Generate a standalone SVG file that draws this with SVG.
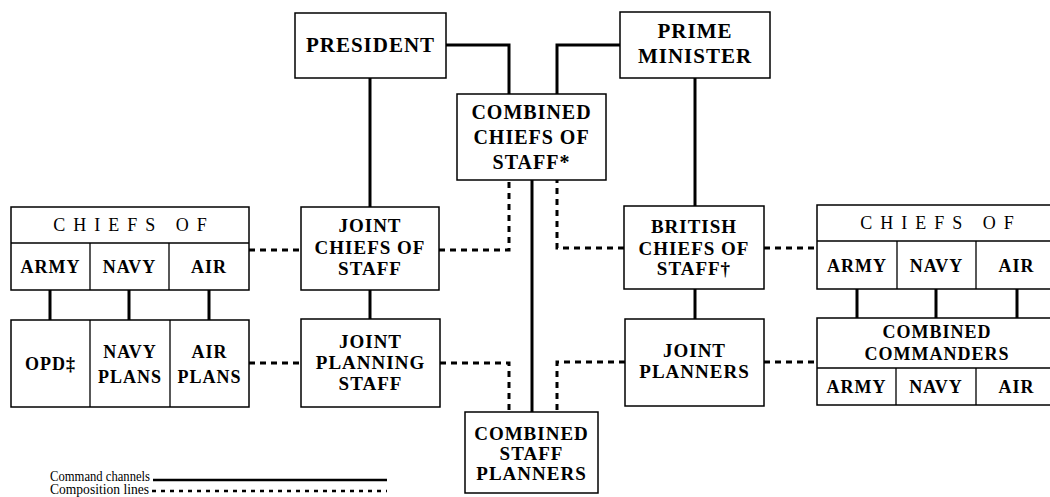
<svg xmlns="http://www.w3.org/2000/svg" width="1050" height="497" viewBox="0 0 1050 497">
<style>
.box{fill:#fff;stroke:#000;stroke-width:1.5}
.div{stroke:#000;stroke-width:1.3;fill:none}
.cmd{stroke:#000;stroke-width:3;fill:none}
.comp{stroke:#000;stroke-width:3;fill:none;stroke-dasharray:6 5}
text{font-family:"Liberation Serif","Times New Roman",serif;fill:#000;text-anchor:middle}
.t{font-size:19px;font-weight:bold;letter-spacing:1px}
.s{font-size:18px;font-weight:bold;letter-spacing:1px}
.h{font-size:18px;letter-spacing:8px}
.lg{font-size:14px;text-anchor:start}
</style>
<rect width="1050" height="497" fill="#fff"/>
<g id="connectors">
<path class="cmd" d="M446 45H509V94"/>
<path class="cmd" d="M620 45H557V94"/>
<path class="cmd" d="M370 78V207"/>
<path class="cmd" d="M370 290V319"/>
<path class="cmd" d="M695 78V206"/>
<path class="cmd" d="M695 289V319"/>
<path class="cmd" d="M532 180V412"/>
<path class="cmd" d="M50 290V320M129 290V320M209 290V320"/>
<path class="cmd" d="M857 289V318M936 289V318M1017 289V318"/>
<path class="comp" d="M249 250H301"/>
<path class="comp" d="M249 363H301"/>
<path class="comp" d="M439 250H509V180"/>
<path class="comp" d="M440 363H509V412"/>
<path class="comp" d="M624 248H557V180"/>
<path class="comp" d="M625 362H557V412"/>
<path class="comp" d="M764 248H817"/>
<path class="comp" d="M764 362H817"/>
</g>
<g id="president">
<rect class="box" x="295" y="13" width="151" height="65"/>
<text class="t" x="370.5" y="52" style="font-size:21px">PRESIDENT</text>
</g>
<g id="prime-minister">
<rect class="box" x="620" y="12" width="150" height="66"/>
<text class="t" x="695" y="38" style="font-size:21px">PRIME</text>
<text class="t" x="695" y="63" style="font-size:21px">MINISTER</text>
</g>
<g id="combined-chiefs">
<rect class="box" x="457" y="94" width="149" height="86"/>
<text class="t" x="531.5" y="119" style="font-size:20px">COMBINED</text>
<text class="t" x="531.5" y="144" style="font-size:20px">CHIEFS OF</text>
<text class="t" x="531.5" y="169" style="font-size:20px">STAFF*</text>
</g>
<g id="joint-chiefs">
<rect class="box" x="301" y="207" width="138" height="83"/>
<text class="t" x="370" y="232">JOINT</text>
<text class="t" x="370" y="254">CHIEFS OF</text>
<text class="t" x="370" y="275">STAFF</text>
</g>
<g id="joint-planning-staff">
<rect class="box" x="301" y="319" width="139" height="88"/>
<text class="t" x="370.5" y="348">JOINT</text>
<text class="t" x="370.5" y="369">PLANNING</text>
<text class="t" x="370.5" y="390">STAFF</text>
</g>
<g id="british-chiefs">
<rect class="box" x="624" y="206" width="140" height="83"/>
<text class="t" x="694" y="233">BRITISH</text>
<text class="t" x="694" y="255">CHIEFS OF</text>
<text class="t" x="694" y="275">STAFF†</text>
</g>
<g id="joint-planners">
<rect class="box" x="625" y="319" width="139" height="87"/>
<text class="t" x="694.5" y="357">JOINT</text>
<text class="t" x="694.5" y="378">PLANNERS</text>
</g>
<g id="combined-staff-planners">
<rect class="box" x="465" y="412" width="133" height="81"/>
<text class="t" x="531.5" y="440">COMBINED</text>
<text class="t" x="531.5" y="460">STAFF</text>
<text class="t" x="531.5" y="480">PLANNERS</text>
</g>
<g id="us-chiefs-of">
<rect class="box" x="11" y="207" width="238" height="83"/>
<path class="div" d="M11 243H249M90 243V290M169 243V290"/>
<text class="h" x="134" y="231">CHIEFS OF</text>
<text class="s" x="50.5" y="273">ARMY</text>
<text class="s" x="129.5" y="273">NAVY</text>
<text class="s" x="209" y="273">AIR</text>
</g>
<g id="us-plans">
<rect class="box" x="11" y="320" width="238" height="87"/>
<path class="div" d="M90 320V407M170 320V407"/>
<text class="s" x="50.5" y="370">OPD‡</text>
<text class="s" x="130" y="358">NAVY</text>
<text class="s" x="130" y="383">PLANS</text>
<text class="s" x="209.5" y="358">AIR</text>
<text class="s" x="209.5" y="383">PLANS</text>
</g>
<g id="british-chiefs-of">
<rect class="box" x="817" y="205" width="245" height="84"/>
<path class="div" d="M817 241H1062M897 241V289M976 241V289"/>
<text class="h" x="941" y="229">CHIEFS OF</text>
<text class="s" x="857" y="272">ARMY</text>
<text class="s" x="936.5" y="272">NAVY</text>
<text class="s" x="1016.5" y="272">AIR</text>
</g>
<g id="combined-commanders">
<rect class="box" x="817" y="318" width="245" height="87"/>
<path class="div" d="M817 368H1062M896 368V405M976 368V405"/>
<text class="s" x="937" y="338">COMBINED</text>
<text class="s" x="937" y="360">COMMANDERS</text>
<text class="s" x="856.5" y="393">ARMY</text>
<text class="s" x="936" y="393">NAVY</text>
<text class="s" x="1016.5" y="393">AIR</text>
</g>
<g id="legend">
<text class="lg" x="50" y="481" textLength="100" lengthAdjust="spacingAndGlyphs">Command channels</text>
<text class="lg" x="50" y="494" textLength="99" lengthAdjust="spacingAndGlyphs">Composition lines</text>
<path class="cmd" d="M153 480H387" style="stroke-width:2.5"/>
<path class="comp" d="M152 491H387" style="stroke-width:2.5;stroke-dasharray:4 5"/>
</g>
</svg>
